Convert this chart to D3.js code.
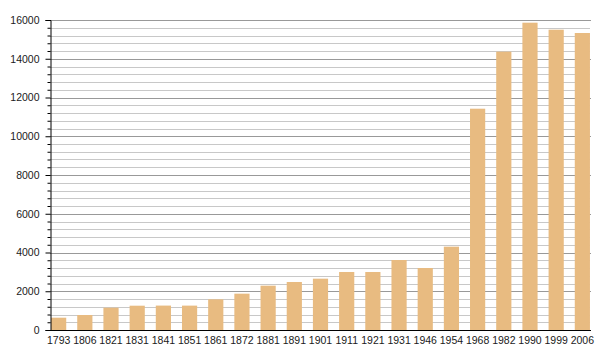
<!DOCTYPE html>
<html>
<head>
<meta charset="utf-8">
<script src="https://cdn.jsdelivr.net/npm/d3@7"></script>
<style>
html,body{margin:0;padding:0;background:#fff;}
svg{display:block;}
text{font-family:"Liberation Sans",Arial,sans-serif;font-size:10.5px;fill:#1a1a1a;}
</style>
</head>
<body>
<svg id="chart" width="600" height="360"></svg>
<script>
const years = ["1793","1806","1821","1831","1841","1851","1861","1872","1881","1891","1901","1911","1921","1931","1946","1954","1968","1982","1990","1999","2006"];
const population = [635,774,1151,1254,1260,1258,1583,1875,2288,2477,2649,2994,2994,3613,3200,4301,11422,14365,15861,15500,15329];
const yTicks = [0,2000,4000,6000,8000,10000,12000,14000,16000];

(function(){
const svg = d3.select("#chart");
const mLeft = 50, mRight = 591, mTop = 20, mBottom = 330;

const x = d3.scaleBand().domain(years).range([mLeft, mRight]).paddingInner(0.42).paddingOuter(0.04);
const y = d3.scaleLinear().domain([0,16000]).range([mBottom, mTop]);

const minor = d3.range(0, 16001, 400);

// gridlines
svg.append("g").selectAll("line").data(minor.filter(v => v % 2000 !== 0)).join("line")
  .attr("x1", mLeft).attr("x2", 590)
  .attr("y1", d => Math.round(y(d)) + 0.5).attr("y2", d => Math.round(y(d)) + 0.5)
  .attr("stroke", "#c8c8c8").attr("stroke-width", 1);
svg.append("g").selectAll("line").data(yTicks.filter(v => v > 0)).join("line")
  .attr("x1", mLeft).attr("x2", 591)
  .attr("y1", d => Math.round(y(d)) + 0.5).attr("y2", d => Math.round(y(d)) + 0.5)
  .attr("stroke", "#999").attr("stroke-width", 1);

// bars
svg.append("g").selectAll("rect").data(years).join("rect")
  .attr("x", d => x(d))
  .attr("width", x.bandwidth())
  .attr("y", (d,i) => y(population[i]))
  .attr("height", (d,i) => mBottom - y(population[i]))
  .attr("fill", "#e8bb81");

// y axis
const yAxis = d3.axisLeft(y).tickValues(yTicks).tickSize(5).tickPadding(6).tickFormat(d3.format("d"));
const gy = svg.append("g").attr("transform", `translate(${mLeft + 0.5},0)`).call(yAxis);
gy.attr("font-family", null).attr("font-size", null);
gy.select(".domain").attr("stroke", "#000");
gy.selectAll(".tick line").attr("stroke", "#000");
gy.selectAll("text").attr("fill", "#1a1a1a");
// minor ticks
const yMinor = d3.axisLeft(y).tickValues(minor.filter(v => v % 2000 !== 0)).tickSize(3).tickFormat("");
const gym = svg.append("g").attr("transform", `translate(${mLeft + 0.5},0)`).call(yMinor);
gym.select(".domain").remove();
gym.selectAll(".tick line").attr("stroke", "#000");

// x axis
const xAxis = d3.axisBottom(x).tickSize(0).tickPadding(6);
const gx = svg.append("g").attr("transform", `translate(0,${mBottom + 0.5})`).call(xAxis);
gx.attr("font-family", null).attr("font-size", null);
gx.select(".domain").attr("stroke", "#000").attr("d", `M${mLeft},0H${mRight}`);
gx.selectAll("text").attr("fill", "#1a1a1a");
})();
</script>
</body>
</html>
